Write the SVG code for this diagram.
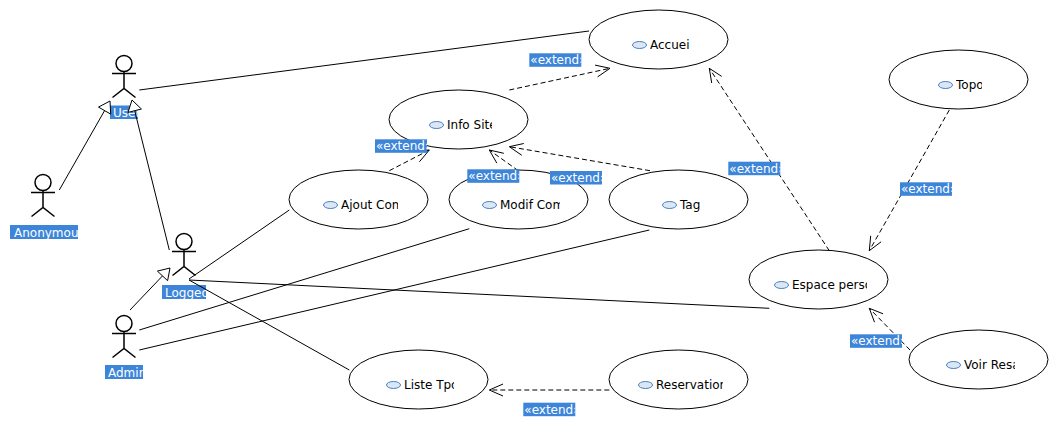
<svg xmlns="http://www.w3.org/2000/svg" width="1059" height="440" viewBox="0 0 1059 440">
<style>
text{font-family:"DejaVu Sans","Liberation Sans",sans-serif;font-size:12px}
.uc{fill:#fff;stroke:#000;stroke-width:1}
.ic{fill:#dbe7f4;stroke:#4a7fbf;stroke-width:1}
.nt{fill:#000}
.act{fill:none;stroke:#000;stroke-width:1.5}
.actHead{fill:#fff;stroke:#000;stroke-width:1.5}
.lbl{fill:#3d85d8}
.lt{fill:#fff}
.assoc{fill:none;stroke:#000;stroke-width:1}
.ext{fill:none;stroke:#000;stroke-width:1;stroke-dasharray:5 3}
.ah{fill:none;stroke:#000;stroke-width:1}
.gen{fill:#fff;stroke:#000;stroke-width:1}
</style>
<defs>
<clipPath id="cInfo"><rect x="447" y="100" width="45" height="40"/></clipPath>
<clipPath id="cAjout"><rect x="341" y="180" width="57" height="40"/></clipPath>
<clipPath id="cModif"><rect x="500" y="180" width="60" height="40"/></clipPath>
<clipPath id="cTopo"><rect x="956" y="60" width="26" height="40"/></clipPath>
<clipPath id="cEspace"><rect x="792" y="260" width="75" height="40"/></clipPath>
<clipPath id="cVoir"><rect x="964" y="340" width="51" height="40"/></clipPath>
<clipPath id="cListe"><rect x="404" y="360" width="50" height="40"/></clipPath>
<clipPath id="cResa"><rect x="656" y="360" width="67" height="40"/></clipPath>
<clipPath id="cUser"><rect x="110" y="105.5" width="28" height="13.5"/></clipPath>
<clipPath id="cLogged"><rect x="162" y="285" width="44" height="14"/></clipPath>
<clipPath id="cAdmin"><rect x="105" y="365" width="38" height="14"/></clipPath>
<clipPath id="cE1"><rect x="529.3" y="53.3" width="52" height="13.5"/></clipPath>
<clipPath id="cE2"><rect x="375" y="139.3" width="52" height="13.5"/></clipPath>
<clipPath id="cE3"><rect x="467.3" y="169.3" width="52" height="13.5"/></clipPath>
<clipPath id="cE4"><rect x="550" y="171" width="52" height="13.5"/></clipPath>
<clipPath id="cE5"><rect x="728.3" y="161.7" width="52" height="13.5"/></clipPath>
<clipPath id="cE6"><rect x="900" y="182.3" width="52" height="13.5"/></clipPath>
<clipPath id="cE7"><rect x="850" y="334.3" width="52" height="13.5"/></clipPath>
<clipPath id="cE8"><rect x="523.3" y="402.7" width="52" height="13.5"/></clipPath>
</defs>
<rect x="0" y="0" width="1059" height="440" fill="#fff"/>

<g id="uc-accueil">
  <ellipse class="uc" cx="658.5" cy="39.5" rx="69.5" ry="29.5"/>
  <ellipse class="ic" cx="639.5" cy="45" rx="7" ry="3.5"/>
  <text class="nt" x="650" y="49">Accuei</text>
</g>
<g id="uc-infosite">
  <ellipse class="uc" cx="458.5" cy="119.5" rx="69.5" ry="29.5"/>
  <ellipse class="ic" cx="436.5" cy="125" rx="7" ry="3.5"/>
  <text class="nt" x="447" y="129" clip-path="url(#cInfo)">Info Site</text>
</g>
<g id="uc-ajoutcom">
  <ellipse class="uc" cx="358.5" cy="199.5" rx="69.5" ry="29.5"/>
  <ellipse class="ic" cx="330.5" cy="205" rx="7" ry="3.5"/>
  <text class="nt" x="341" y="209" clip-path="url(#cAjout)">Ajout Com</text>
</g>
<g id="uc-modifcom">
  <ellipse class="uc" cx="518.5" cy="199.5" rx="69.5" ry="29.5"/>
  <ellipse class="ic" cx="489.5" cy="205" rx="7" ry="3.5"/>
  <text class="nt" x="500" y="209" clip-path="url(#cModif)">Modif Com</text>
</g>
<g id="uc-tag">
  <ellipse class="uc" cx="678.5" cy="199.5" rx="69.5" ry="29.5"/>
  <ellipse class="ic" cx="669.5" cy="205" rx="7" ry="3.5"/>
  <text class="nt" x="680" y="209">Tag</text>
</g>
<g id="uc-topo">
  <ellipse class="uc" cx="958.5" cy="79.5" rx="69.5" ry="29.5"/>
  <ellipse class="ic" cx="945.5" cy="85" rx="7" ry="3.5"/>
  <text class="nt" x="956" y="89" clip-path="url(#cTopo)">Topo</text>
</g>
<g id="uc-espaceperso">
  <ellipse class="uc" cx="818.5" cy="279.5" rx="69.5" ry="29.5"/>
  <ellipse class="ic" cx="781.5" cy="285" rx="7" ry="3.5"/>
  <text class="nt" x="792" y="289" clip-path="url(#cEspace)">Espace perso</text>
</g>
<g id="uc-voirresa">
  <ellipse class="uc" cx="978.5" cy="359.5" rx="69.5" ry="29.5"/>
  <ellipse class="ic" cx="953.5" cy="365" rx="7" ry="3.5"/>
  <text class="nt" x="964" y="369" clip-path="url(#cVoir)">Voir Resa</text>
</g>
<g id="uc-listetpo">
  <ellipse class="uc" cx="418.5" cy="379.5" rx="69.5" ry="29.5"/>
  <ellipse class="ic" cx="393.5" cy="385" rx="7" ry="3.5"/>
  <text class="nt" x="404" y="389" clip-path="url(#cListe)">Liste Tpo</text>
</g>
<g id="uc-reservation">
  <ellipse class="uc" cx="678.5" cy="379.5" rx="69.5" ry="29.5"/>
  <ellipse class="ic" cx="645.5" cy="385" rx="7" ry="3.5"/>
  <text class="nt" x="656" y="389" clip-path="url(#cResa)">Reservation</text>
</g>

<g id="actor-user">
  <circle class="actHead" cx="124" cy="63.5" r="8"/>
  <path class="act" d="M112,73.5 H136 M124,71.5 V88.5 M112.5,97.5 L124,88.5 L135.5,97.5"/>
  <rect class="lbl" x="110" y="105.5" width="28" height="13.5"/>
  <text class="lt" x="113" y="116.5" clip-path="url(#cUser)">User</text>
</g>
<g id="actor-anonymous">
  <circle class="actHead" cx="43" cy="182.5" r="8"/>
  <path class="act" d="M31,192.5 H55 M43,190.5 V207.5 M31.5,216.5 L43,207.5 L54.5,216.5"/>
  <rect class="lbl" x="10" y="225" width="68" height="14"/>
  <text class="lt" x="14" y="236.5">Anonymou</text>
</g>
<g id="actor-logged">
  <circle class="actHead" cx="184" cy="241.5" r="8"/>
  <path class="act" d="M172,251.5 H196 M184,249.5 V266.5 M172.5,275.5 L184,266.5 L195.5,275.5"/>
  <rect class="lbl" x="162" y="285" width="44" height="14"/>
  <text class="lt" x="165" y="296.5" clip-path="url(#cLogged)">Logged</text>
</g>
<g id="actor-admin">
  <circle class="actHead" cx="124" cy="323.5" r="8"/>
  <path class="act" d="M112,333.5 H136 M124,331.5 V348.5 M112.5,357.5 L124,348.5 L135.5,357.5"/>
  <rect class="lbl" x="105" y="365" width="38" height="14"/>
  <text class="lt" x="108" y="376.5" clip-path="url(#cAdmin)">Admin</text>
</g>

<g id="connectors">
  <!-- associations -->
  <line class="assoc" x1="139.3" y1="90" x2="589" y2="31"/>
  <line class="assoc" x1="189" y1="279" x2="289.3" y2="210"/>
  <line class="assoc" x1="189" y1="280" x2="769.3" y2="308.3"/>
  <line class="assoc" x1="189" y1="280" x2="349.3" y2="370"/>
  <line class="assoc" x1="139.3" y1="330" x2="469.3" y2="228.7"/>
  <line class="assoc" x1="139.3" y1="350" x2="649.3" y2="230"/>
  <!-- generalizations -->
  <line class="assoc" x1="59.3" y1="190" x2="104.6" y2="110.6"/>
  <polygon class="gen" points="110,101 110.7,114.1 98.5,107.1"/>
  <line class="assoc" x1="169.3" y1="250" x2="134.7" y2="110.7"/>
  <polygon class="gen" points="132,100 141.4,109 128,112.4"/>
  <line class="assoc" x1="130" y1="310" x2="162.5" y2="275.9"/>
  <polygon class="gen" points="170,268 167.6,280.7 157.4,271.1"/>
  <!-- extends -->
  <line class="ext" x1="509.3" y1="90" x2="610" y2="68.3"/>
  <polyline class="ah" points="595,65.1 610,68.3 597.6,76.9"/>
  <line class="ext" x1="389.3" y1="170.7" x2="429.3" y2="150"/>
  <polyline class="ah" points="413.8,151.2 429.3,150 419.4,161.8"/>
  <line class="ext" x1="518.3" y1="170.7" x2="489.3" y2="150"/>
  <polyline class="ah" points="503.8,153.3 489.3,150 496.8,163.1"/>
  <line class="ext" x1="650" y1="170.7" x2="509.3" y2="146.7"/>
  <polyline class="ah" points="523.8,143.5 509.3,146.7 521.8,155.3"/>
  <line class="ext" x1="829.3" y1="250.7" x2="709.3" y2="68.3"/>
  <polyline class="ah" points="721.7,76.4 709.3,68.3 711.7,83"/>
  <line class="ext" x1="949.3" y1="110" x2="869.3" y2="250.7"/>
  <polyline class="ah" points="881.1,241.8 869.3,250.7 870.7,235.8"/>
  <line class="ext" x1="910" y1="350" x2="869.3" y2="308.3"/>
  <polyline class="ah" points="883.1,313.8 869.3,308.3 874.5,322.2"/>
  <line class="ext" x1="609.3" y1="390" x2="489.3" y2="390"/>
  <polyline class="ah" points="503,384 489.3,390 503,396"/>
  <!-- extend labels -->
  <rect class="lbl" x="529.3" y="53.3" width="52" height="13.5"/>
  <text class="lt" x="530.3" y="64.3" clip-path="url(#cE1)">«extend»</text>
  <rect class="lbl" x="375" y="139.3" width="52" height="13.5"/>
  <text class="lt" x="376" y="150.3" clip-path="url(#cE2)">«extend»</text>
  <rect class="lbl" x="467.3" y="169.3" width="52" height="13.5"/>
  <text class="lt" x="468.3" y="180.3" clip-path="url(#cE3)">«extend»</text>
  <rect class="lbl" x="550" y="171" width="52" height="13.5"/>
  <text class="lt" x="551" y="182" clip-path="url(#cE4)">«extend»</text>
  <rect class="lbl" x="728.3" y="161.7" width="52" height="13.5"/>
  <text class="lt" x="729.3" y="172.7" clip-path="url(#cE5)">«extend»</text>
  <rect class="lbl" x="900" y="182.3" width="52" height="13.5"/>
  <text class="lt" x="901" y="193.3" clip-path="url(#cE6)">«extend»</text>
  <rect class="lbl" x="850" y="334.3" width="52" height="13.5"/>
  <text class="lt" x="851" y="345.3" clip-path="url(#cE7)">«extend»</text>
  <rect class="lbl" x="523.3" y="402.7" width="52" height="13.5"/>
  <text class="lt" x="524.3" y="413.7" clip-path="url(#cE8)">«extend»</text>
</g>
</svg>
